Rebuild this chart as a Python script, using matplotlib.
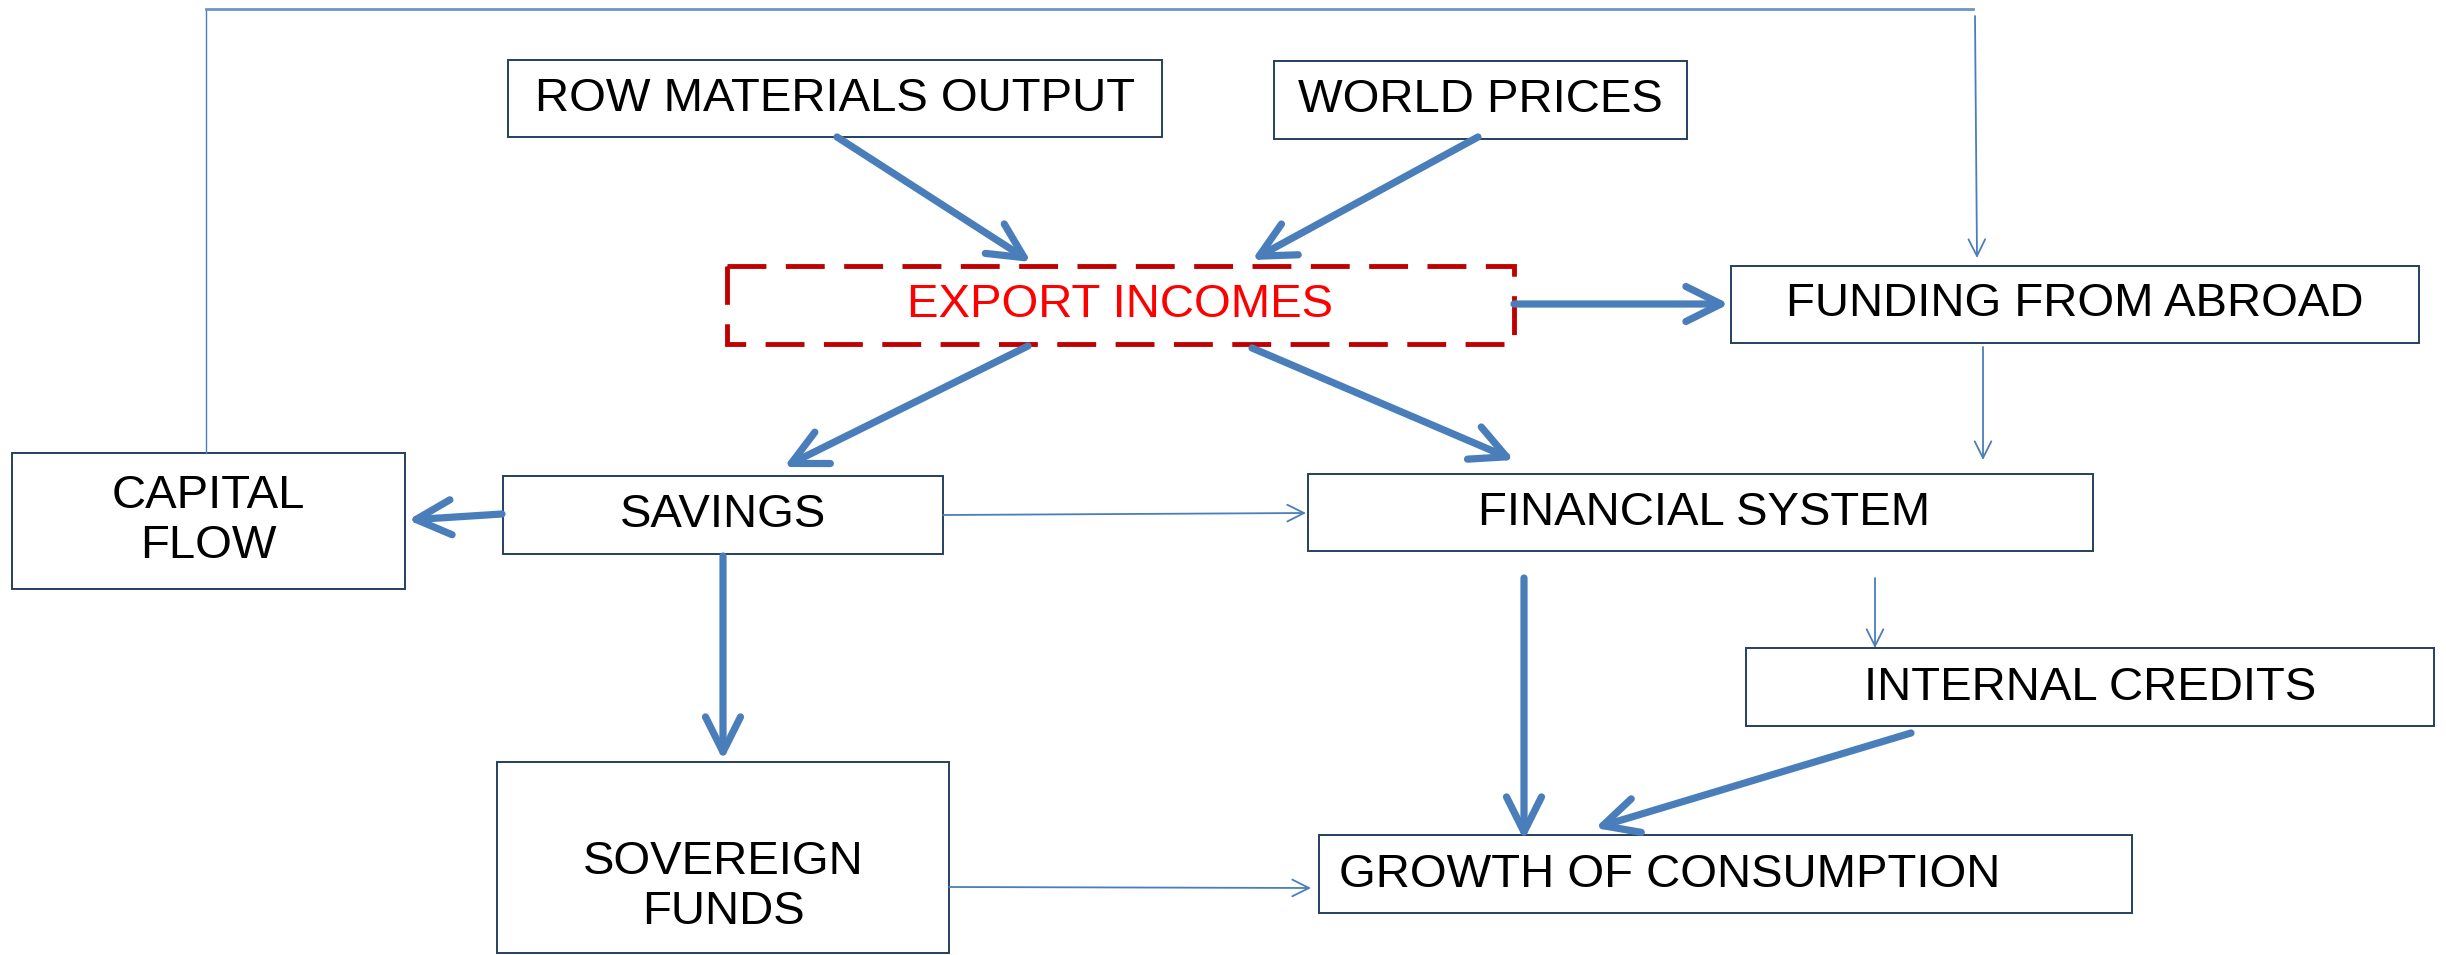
import matplotlib.pyplot as plt
from matplotlib.patches import Rectangle, FancyArrowPatch

# boxes: label, x0, x1, y0, y1 (pixel space, y down)
labels = ["ROW MATERIALS OUTPUT", "WORLD PRICES", "EXPORT INCOMES", "FUNDING FROM ABROAD",
          "CAPITAL\nFLOW", "SAVINGS", "FINANCIAL SYSTEM", "INTERNAL CREDITS",
          "SOVEREIGN\nFUNDS", "GROWTH OF CONSUMPTION"]
bx0 = [508, 1274, 727, 1731, 12, 503, 1308, 1746, 497, 1319]
bx1 = [1162, 1687, 1514, 2419, 405, 943, 2093, 2434, 949, 2132]
by0 = [60, 61, 266, 266, 453, 476, 474, 648, 762, 835]
by1 = [137, 139, 344, 343, 589, 554, 551, 726, 953, 913]
# text anchor (x, y) and alignment
tx = [835, 1480, 1120, 2075, 208, 723, 1704, 2090, 723, 1339]
ty = [99, 100, 305, 304, 521, 515, 513, 688, 887, 875]
ha = ["center"] * 9 + ["left"]

# arrows: start, end, thick?
arrows = [
    ((837, 137), (1031, 262), True),
    ((1478, 137), (1252, 260), True),
    ((1514, 304), (1729, 304), True),
    ((1028, 346), (784, 467), True),
    ((1252, 348), (1514, 460), True),
    ((1983, 347), (1983, 460), False),
    ((502, 514), (408, 520), True),
    ((943, 515), (1306, 513), False),
    ((723, 556), (723, 760), True),
    ((1524, 578), (1524, 840), True),
    ((1875, 578), (1875, 648), False),
    ((1911, 733), (1595, 828), True),
    ((949, 887), (1311, 888), False),
    ((1975, 16), (1977, 258), False),
]
# feedback line from capital flow over the top
loop_x = [206, 206, 1973]
loop_y = [453, 9, 9]

blue = "#4A7EBB"
navy = "#243F60"

fig = plt.figure(figsize=(24.46, 9.55), dpi=100)
ax = fig.add_axes([0, 0, 1, 1])
ax.set_xlim(0, 2446)
ax.set_ylim(955, 0)
ax.axis("off")

for i, lab in enumerate(labels):
    if lab == "EXPORT INCOMES":
        r = Rectangle((bx0[i], by0[i]), bx1[i] - bx0[i], by1[i] - by0[i], fill=False,
                      ec="#C00000", lw=3.5, ls=(0, (8, 4)))
        col = "#FF0000"
    else:
        r = Rectangle((bx0[i], by0[i]), bx1[i] - bx0[i], by1[i] - by0[i], fill=False,
                      ec=navy, lw=1.4)
        col = "black"
    ax.add_patch(r)
    ax.text(tx[i], ty[i], lab, ha=ha[i], va="center", fontsize=34, color=col,
            family="Liberation Sans", linespacing=1.15)

for (a, b, thick) in arrows:
    if thick:
        p = FancyArrowPatch(a, b, arrowstyle="->,head_length=0.6,head_width=0.3",
                            mutation_scale=42, lw=5.2, color=blue, shrinkA=0, shrinkB=0)
    else:
        p = FancyArrowPatch(a, b, arrowstyle="->,head_length=0.6,head_width=0.3",
                            mutation_scale=20, lw=1.3, color=blue, shrinkA=0, shrinkB=0)
    ax.add_patch(p)

ax.plot(loop_x[:2], loop_y[:2], color=blue, lw=1.0)
ax.plot(loop_x[1:], loop_y[1:], color="#6F94C8", lw=2.0)

fig.savefig("out.png", dpi=100)
